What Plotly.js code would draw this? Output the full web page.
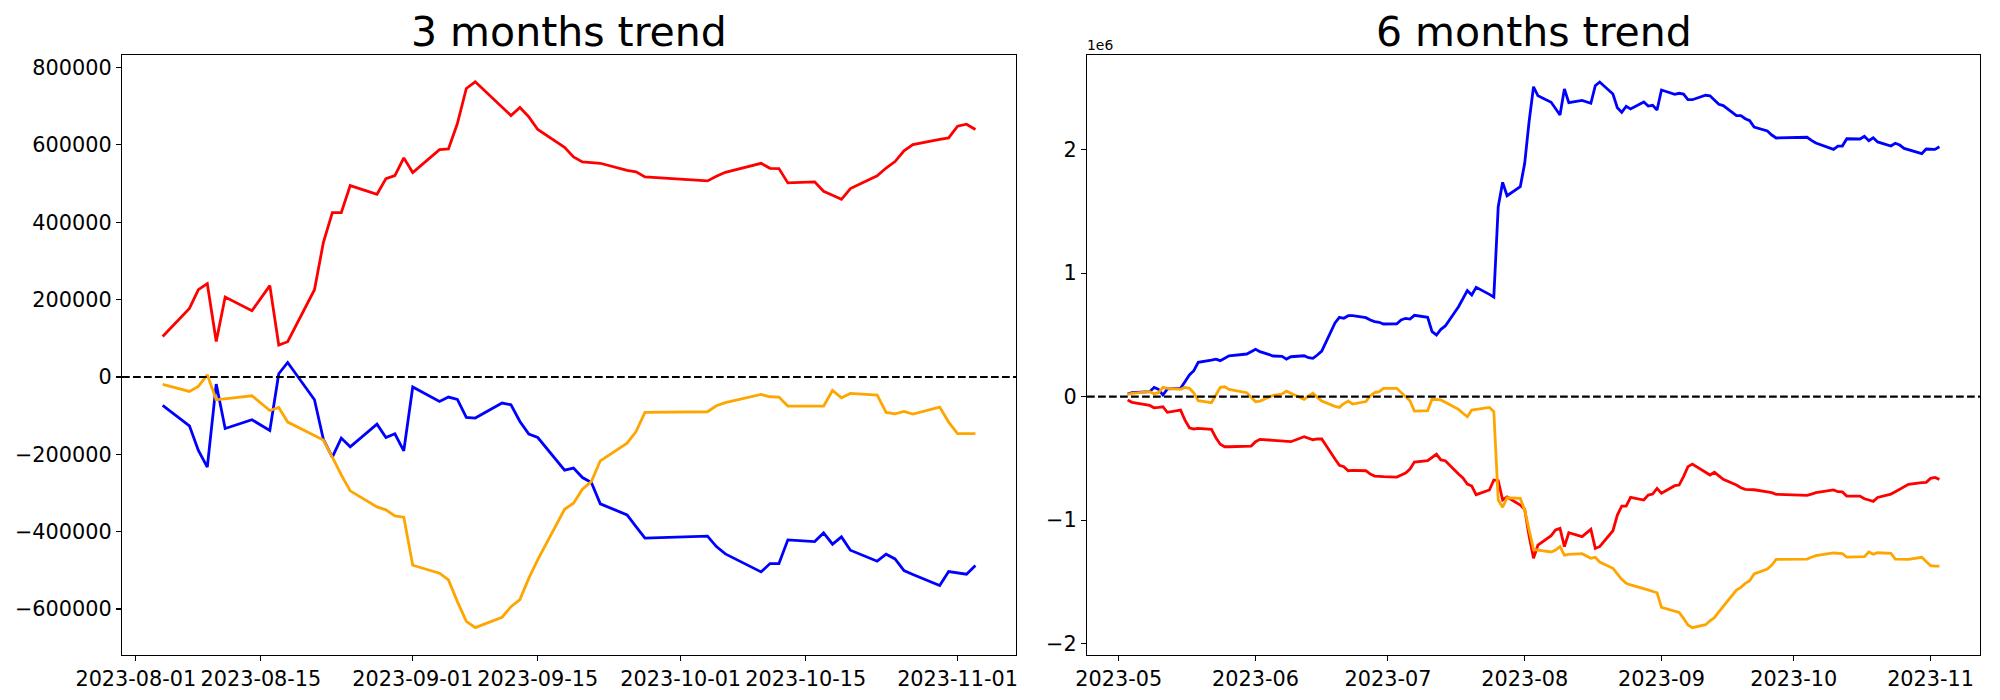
<!DOCTYPE html>
<html>
<head>
<meta charset="utf-8">
<script src="https://cdn.plot.ly/plotly-3.0.1.min.js"></script>
<style>html,body{margin:0;padding:0;background:#fff;}#chart{width:2000px;height:700px;}</style>
</head>
<body>
<div id="chart"></div>
<script>
// ---------- 3 months (Korean trading days) ----------
const dates3 = ["2023-08-04","2023-08-07","2023-08-08","2023-08-09","2023-08-10","2023-08-11","2023-08-14","2023-08-16","2023-08-17","2023-08-18","2023-08-21","2023-08-22","2023-08-23","2023-08-24","2023-08-25","2023-08-28","2023-08-29","2023-08-30","2023-08-31","2023-09-01","2023-09-04","2023-09-05","2023-09-06","2023-09-07","2023-09-08","2023-09-11","2023-09-12","2023-09-13","2023-09-14","2023-09-15","2023-09-18","2023-09-19","2023-09-20","2023-09-21","2023-09-22","2023-09-25","2023-09-26","2023-09-27","2023-10-04","2023-10-05","2023-10-06","2023-10-10","2023-10-11","2023-10-12","2023-10-13","2023-10-16","2023-10-17","2023-10-18","2023-10-19","2023-10-20","2023-10-23","2023-10-24","2023-10-25","2023-10-26","2023-10-27","2023-10-30","2023-10-31","2023-11-01","2023-11-02","2023-11-03"];
const red3 = [104800,177200,225600,241100,91800,206700,171300,236000,82500,91100,225600,348000,424800,424800,494700,472200,512800,520600,566400,528300,587800,589600,655100,745700,763000,697600,675800,696500,672400,639600,593800,568900,556000,554000,552400,534300,530100,517200,506900,518800,529100,552400,539400,538700,501700,504300,479900,469600,459200,486900,519800,540000,556800,584500,600800,614000,618100,648100,653300,639600];
const blue3 = [-73700,-126300,-190200,-233100,-18400,-133200,-110700,-138400,8300,37500,-59000,-161700,-207200,-158100,-180600,-121900,-156500,-147000,-190900,-26100,-63400,-52000,-58200,-104800,-106300,-67500,-71900,-115100,-147700,-156500,-240900,-235700,-260000,-273000,-328100,-356500,-386800,-416800,-411600,-438500,-457400,-504000,-482500,-482500,-421200,-425600,-403100,-432300,-413400,-447900,-476300,-458200,-470400,-500600,-510700,-539400,-503200,-506600,-510000,-487700];
const orange3 = [-19400,-37500,-24600,5700,-59000,-56400,-48600,-86700,-78900,-116700,-152100,-163300,-207200,-253000,-294400,-335800,-343600,-359100,-362500,-486700,-507400,-524700,-580800,-631600,-648100,-621200,-593800,-575700,-520000,-472000,-342000,-326300,-290000,-270400,-216800,-171000,-141000,-91800,-90000,-74500,-66500,-45300,-51200,-52000,-75300,-75300,-75300,-34900,-53800,-42700,-46800,-91800,-95200,-89300,-96000,-77900,-116700,-146200,-146500,-146500];

// ---------- 6 months ----------
const dates6 = ["2023-05-03","2023-05-04","2023-05-08","2023-05-09","2023-05-10","2023-05-11","2023-05-12","2023-05-15","2023-05-16","2023-05-17","2023-05-18","2023-05-19","2023-05-22","2023-05-23","2023-05-24","2023-05-25","2023-05-26","2023-05-30","2023-05-31",
"2023-06-01","2023-06-02","2023-06-05","2023-06-07","2023-06-08","2023-06-09","2023-06-12","2023-06-13","2023-06-14","2023-06-15","2023-06-16","2023-06-19","2023-06-20","2023-06-21","2023-06-22","2023-06-23","2023-06-26","2023-06-27","2023-06-28","2023-06-29","2023-06-30",
"2023-07-03","2023-07-04","2023-07-05","2023-07-06","2023-07-07","2023-07-10","2023-07-11","2023-07-12","2023-07-13","2023-07-14","2023-07-17","2023-07-18","2023-07-19","2023-07-20","2023-07-21","2023-07-24","2023-07-25","2023-07-26","2023-07-27","2023-07-28","2023-07-31",
"2023-08-01","2023-08-02","2023-08-03","2023-08-04","2023-08-07","2023-08-08","2023-08-09","2023-08-10","2023-08-11","2023-08-14","2023-08-16","2023-08-17","2023-08-18","2023-08-21","2023-08-22","2023-08-23","2023-08-24","2023-08-25","2023-08-28","2023-08-29","2023-08-30","2023-08-31",
"2023-09-01","2023-09-04","2023-09-05","2023-09-06","2023-09-07","2023-09-08","2023-09-11","2023-09-12","2023-09-13","2023-09-14","2023-09-15","2023-09-18","2023-09-19","2023-09-20","2023-09-21","2023-09-22","2023-09-25","2023-09-26","2023-09-27",
"2023-10-04","2023-10-05","2023-10-06","2023-10-10","2023-10-11","2023-10-12","2023-10-13","2023-10-16","2023-10-17","2023-10-18","2023-10-19","2023-10-20","2023-10-23","2023-10-24","2023-10-25","2023-10-26","2023-10-27","2023-10-30","2023-10-31",
"2023-11-01","2023-11-02","2023-11-03"];
const blue6 = [21000,32000,40000,75000,59000,13000,62000,67000,121000,175000,210000,278000,296000,304000,291000,313000,331000,345000,361000,
383000,364000,329000,326000,304000,323000,331000,315000,310000,337000,369000,597000,642000,634000,655000,655000,639000,620000,607000,602000,588000,
590000,620000,634000,628000,658000,642000,526000,499000,545000,572000,728000,790000,858000,823000,885000,828000,806000,1538000,1735000,1627000,1700000,
1889000,2229000,2509000,2436000,2383000,2326000,2280000,2491000,2380000,2399000,2375000,2517000,2547000,2450000,2339000,2302000,2351000,2329000,2385000,2353000,2359000,2321000,
2483000,2448000,2456000,2450000,2404000,2404000,2440000,2436000,2402000,2367000,2356000,2275000,2275000,2250000,2234000,2183000,2151000,2118000,2094000,
2100000,2075000,2053000,2002000,2029000,2029000,2088000,2086000,2108000,2072000,2096000,2062000,2029000,2051000,2037000,2010000,1999000,1967000,2005000,
2002000,2002000,2023000];
const red6 = [-28000,-46000,-71000,-90000,-87000,-82000,-127000,-109000,-190000,-252000,-262000,-257000,-265000,-333000,-386000,-406000,-406000,-406000,-400000,
-365000,-346000,-354000,-360000,-365000,-365000,-325000,-338000,-349000,-343000,-343000,-505000,-556000,-567000,-600000,-597000,-600000,-627000,-643000,-645000,-648000,
-651000,-638000,-619000,-586000,-530000,-519000,-492000,-467000,-513000,-519000,-627000,-659000,-708000,-724000,-794000,-756000,-675000,-681000,-837000,-813000,-878000,
-913000,-1129000,-1309000,-1202000,-1126000,-1080000,-1067000,-1215000,-1102000,-1134000,-1075000,-1229000,-1215000,-1086000,-959000,-886000,-886000,-816000,-837000,-797000,-789000,-743000,
-783000,-721000,-716000,-648000,-567000,-546000,-616000,-635000,-613000,-643000,-670000,-716000,-738000,-751000,-754000,-754000,-772000,-778000,-791000,
-799000,-789000,-778000,-756000,-770000,-772000,-805000,-805000,-827000,-837000,-848000,-816000,-789000,-770000,-748000,-729000,-710000,-697000,-694000,
-662000,-654000,-670000];
const orange6 = [19000,27000,40000,23000,32000,75000,67000,59000,75000,67000,30000,-33000,-49000,13000,75000,80000,59000,32000,-1000,
-41000,-36000,11000,21000,45000,27000,-22000,5000,27000,-6000,-36000,-79000,-87000,-56000,-36000,-60000,-40000,5000,32000,40000,67000,
67000,32000,-1000,-33000,-117000,-114000,-22000,-22000,-27000,-46000,-103000,-135000,-163000,-109000,-103000,-87000,-122000,-837000,-896000,-819000,-824000,
-918000,-1080000,-1237000,-1242000,-1258000,-1242000,-1215000,-1283000,-1277000,-1272000,-1309000,-1301000,-1339000,-1390000,-1436000,-1479000,-1512000,-1525000,-1555000,-1566000,-1582000,-1588000,
-1706000,-1734000,-1747000,-1795000,-1849000,-1871000,-1847000,-1815000,-1790000,-1742000,-1696000,-1566000,-1544000,-1512000,-1491000,-1436000,-1396000,-1364000,-1318000,
-1315000,-1301000,-1288000,-1266000,-1272000,-1272000,-1299000,-1299000,-1296000,-1258000,-1277000,-1264000,-1269000,-1315000,-1315000,-1312000,-1318000,-1301000,-1337000,
-1369000,-1372000,-1372000];

// ---------- ticks / titles ----------
const xTicks3 = ["2023-08-01","2023-08-15","2023-09-01","2023-09-15","2023-10-01","2023-10-15","2023-11-01"];
const yTicks3 = [-600000,-400000,-200000,0,200000,400000,600000,800000];
const yTickText3 = ["\u2212600000","\u2212400000","\u2212200000","0","200000","400000","600000","800000"];
const xTicks6 = ["2023-05-01","2023-06-01","2023-07-01","2023-08-01","2023-09-01","2023-10-01","2023-11-01"];
const xTickText6 = ["2023-05","2023-06","2023-07","2023-08","2023-09","2023-10","2023-11"];
const yTicks6 = [-2000000,-1000000,0,1000000,2000000];
const yTickText6 = ["\u22122","\u22121","0","1","2"];
const titles = ["3 months trend","6 months trend"];
const offsetText6 = "1e6";

const FONT = "DejaVu Sans";
function line(x, y, color, xa, ya) {
  return {x: x, y: y, type: "scatter", mode: "lines", xaxis: xa, yaxis: ya,
          line: {color: color, width: 2.8}, hoverinfo: "skip"};
}
const traces = [
  line(dates3, red3, "red", "x", "y"),
  line(dates3, blue3, "blue", "x", "y"),
  line(dates3, orange3, "orange", "x", "y"),
  line(dates6, blue6, "blue", "x2", "y2"),
  line(dates6, red6, "red", "x2", "y2"),
  line(dates6, orange6, "orange", "x2", "y2")
];

const axisCommon = {
  showline: true, mirror: true, linecolor: "#000", linewidth: 1.1,
  ticks: "outside", ticklen: 5, tickwidth: 1.1, tickcolor: "#000",
  showgrid: false, zeroline: false, tickfont: {family: FONT, size: 20.8, color: "#000"},
  fixedrange: true
};
const d1 = [0, 0.4812], d2 = [0.5194, 1];

const layout = {
  width: 2000, height: 700,
  paper_bgcolor: "#fff", plot_bgcolor: "#fff",
  margin: {l: 122, r: 20, t: 55, b: 45, pad: 0},
  font: {family: FONT, color: "#000"},
  showlegend: false,
  xaxis: Object.assign({}, axisCommon, {domain: d1, anchor: "y", type: "date",
    range: ["2023-07-30 10:48", "2023-11-07 13:12"], tickmode: "array", tickvals: xTicks3, ticktext: xTicks3}),
  yaxis: Object.assign({}, axisCommon, {domain: [0, 1], anchor: "x",
    range: [-718800, 832300], tickmode: "array", tickvals: yTicks3, ticktext: yTickText3}),
  xaxis2: Object.assign({}, axisCommon, {domain: d2, anchor: "y2", type: "date",
    range: ["2023-04-23 19:12", "2023-11-12 04:48"], tickmode: "array", tickvals: xTicks6, ticktext: xTickText6}),
  yaxis2: Object.assign({}, axisCommon, {domain: [0, 1], anchor: "x2",
    range: [-2092000, 2766000], tickmode: "array", tickvals: yTicks6, ticktext: yTickText6}),
  shapes: [
    {type: "line", xref: "x domain", yref: "y", x0: 0, x1: 1, y0: 0, y1: 0,
     line: {color: "#000", width: 2.1, dash: "7.7px,3.3px"}, layer: "above"},
    {type: "line", xref: "x2 domain", yref: "y2", x0: 0, x1: 1, y0: 0, y1: 0,
     line: {color: "#000", width: 2.1, dash: "7.7px,3.3px"}, layer: "above"}
  ],
  annotations: [
    {text: titles[0], xref: "paper", yref: "paper", x: (d1[0] + d1[1]) / 2, y: 1, xanchor: "center", yanchor: "bottom",
     showarrow: false, font: {family: FONT, size: 41, color: "#000"}, yshift: -3},
    {text: titles[1], xref: "paper", yref: "paper", x: (d2[0] + d2[1]) / 2, y: 1, xanchor: "center", yanchor: "bottom",
     showarrow: false, font: {family: FONT, size: 41, color: "#000"}, yshift: -3},
    {text: offsetText6, xref: "paper", yref: "paper", x: d2[0], y: 1, xanchor: "left", yanchor: "bottom",
     showarrow: false, font: {family: FONT, size: 13.9, color: "#000"}, xshift: -2}
  ]
};

Plotly.newPlot("chart", traces, layout, {staticPlot: true, displayModeBar: false});
</script>
</body>
</html>
